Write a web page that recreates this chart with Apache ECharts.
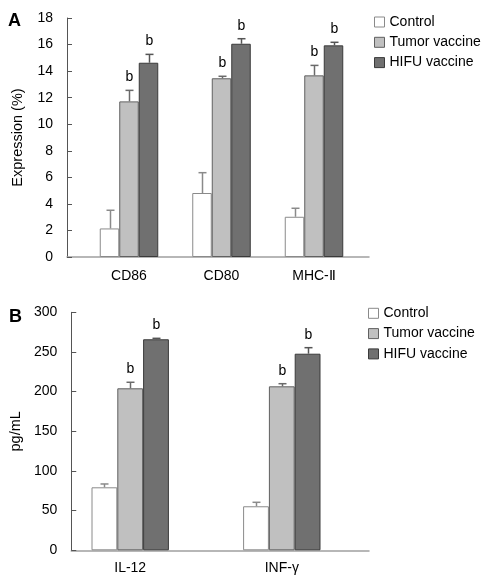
<!DOCTYPE html>
<html>
<head>
<meta charset="utf-8">
<script src="https://cdn.jsdelivr.net/npm/echarts@6/dist/echarts.min.js"></script>
<style>html,body{margin:0;padding:0;background:#fff}#c{width:496px;height:585px}</style>
</head>
<body>
<div id="c"></div>
<script>
// ---- Data ----
const seriesNames = ['Control', 'Tumor vaccine', 'HIFU vaccine'];

const aCategories = ['CD86', 'CD80', 'MHC-Ⅱ'];
const aControl = [2.15, 4.82, 3.03];
const aControlErr = [1.37, 1.53, 0.64];
const aTumor = [11.72, 13.46, 13.68];
const aTumorErr = [0.83, 0.15, 0.75];
const aHifu = [14.63, 16.06, 15.94];
const aHifuErr = [0.63, 0.38, 0.23];
const aSig = [[0, 0, 0], [1, 1, 1], [1, 1, 1]];
const aYTicks = [0, 2, 4, 6, 8, 10, 12, 14, 16, 18];

const bCategories = ['IL-12', 'INF-γ'];
const bControl = [79.4, 55.5];
const bControlErr = [4.2, 5.0];
const bTumor = [204.2, 206.7];
const bTumorErr = [7.6, 3.3];
const bHifu = [266, 247.8];
const bHifuErr = [1.2, 7.6];
const bSig = [[0, 0], [1, 1], [1, 1]];
const bYTicks = [0, 50, 100, 150, 200, 250, 300];

// ---- Styles ----
const FONT = 'Liberation Sans';
const fills = ['#ffffff', '#c0c0c0', '#707070'];
const borders = ['#8a8a8a', '#606060', '#3a3a3a'];
const errColors = ['#8a8a8a', '#6a6a6a', '#555555'];

function errRenderer(barW) {
  return function (params, api) {
    const cat = api.value(0), val = api.value(1), err = api.value(2), idx = api.value(3), sig = api.value(4);
    const base = api.coord([cat, val]);
    const top = api.coord([cat, val + err]);
    const x = Math.round(base[0] + (idx - 1) * barW) + 0.5;
    const cap = 4;
    const children = [
      { type: 'line', shape: { x1: x, y1: base[1], x2: x, y2: top[1] }, style: { stroke: errColors[idx], lineWidth: 1.5 } },
      { type: 'line', shape: { x1: x - cap, y1: top[1], x2: x + cap, y2: top[1] }, style: { stroke: errColors[idx], lineWidth: 1.5 } }
    ];
    if (sig) {
      children.push({ type: 'text', style: { text: 'b', x: x, y: top[1] - 13, align: 'center', verticalAlign: 'middle', font: '14px "' + FONT + '"', fill: '#000' } });
    }
    return { type: 'group', children: children };
  };
}

function errData(vals, errs, sig, idx) {
  return vals.map((v, i) => [i, v, errs[i], idx, sig[idx][i]]);
}

const tickLabel = { color: '#000', fontFamily: FONT, fontSize: 14 };

function frameAxes(gridIndex, max, interval, name, nameGap) {
  return {
    x: { type: 'value', gridIndex, min: 0, max: 1, axisLine: { show: true, onZero: false, lineStyle: { color: '#a0a0a0', width: 1.5 } }, axisTick: { show: false }, axisLabel: { show: false }, splitLine: { show: false } },
    y: { type: 'value', gridIndex, min: 0, max, interval, name, nameLocation: 'middle', nameGap, nameRotate: 90,
      nameTextStyle: { color: '#000', fontFamily: FONT, fontSize: 14.5 },
      axisLine: { show: true, lineStyle: { color: '#555', width: 1 } },
      axisTick: { show: true, inside: true, length: 5, lineStyle: { color: '#555' } },
      axisLabel: Object.assign({ margin: 14 }, tickLabel), splitLine: { show: false } }
  };
}

const fA = frameAxes(0, 18, 2, 'Expression (%)', 42);
const fB = frameAxes(2, 300, 50, 'pg/mL', 42);

function barAxes(gridIndex, cats, max, margin) {
  return {
    x: { type: 'category', gridIndex, data: cats, axisLine: { show: false }, axisTick: { show: false }, axisLabel: Object.assign({ margin, interval: 0 }, tickLabel) },
    y: { type: 'value', gridIndex, min: 0, max, show: false, splitLine: { show: false } }
  };
}
const bxA = barAxes(1, aCategories, 18, 12);
const bxB = barAxes(3, bCategories, 300, 11);

const barWA = 19.5, barWB = 25.8;
function bars(vals, idx, axisIndex, bw) {
  return { type: 'bar', name: seriesNames[idx], xAxisIndex: axisIndex, yAxisIndex: axisIndex, data: vals, barWidth: bw, barGap: '0%',
    itemStyle: { color: fills[idx], borderColor: borders[idx], borderWidth: 1 }, animation: false };
}
function errs(vals, e, sig, idx, axisIndex, bw) {
  return { type: 'custom', xAxisIndex: axisIndex, yAxisIndex: axisIndex, renderItem: errRenderer(bw), data: errData(vals, e, sig, idx), clip: false, z: 5, silent: true, animation: false };
}

const legendBase = { orient: 'vertical', icon: 'rect', itemWidth: 10, itemHeight: 10, itemGap: 6.3, itemTextGap: 10, padding: 0,
  textStyle: { color: '#000', fontFamily: FONT, fontSize: 14, lineHeight: 12 }, selectedMode: false,
  itemStyle: { borderWidth: 1 } };

const option = {
  animation: false,
  backgroundColor: '#fff',
  title: [
    { text: 'A', left: 8, top: 12, padding: 0, textStyle: { fontFamily: FONT, fontWeight: 'bold', fontSize: 18, color: '#000' } },
    { text: 'B', left: 9, top: 308, padding: 0, textStyle: { fontFamily: FONT, fontWeight: 'bold', fontSize: 18, color: '#000' } }
  ],
  legend: [
    Object.assign({}, legendBase, { left: 374, top: 15, data: seriesNames }),
    Object.assign({}, legendBase, { left: 368, top: 306.3, data: seriesNames })
  ],
  grid: [
    { left: 67, top: 18, width: 302, height: 239 },
    { left: 82.75, top: 18, width: 277.5, height: 239 },
    { left: 67, top: 312.3, width: 302, height: 238 },
    { left: 54.4, top: 312.3, width: 303.2, height: 238 }
  ],
  xAxis: [fA.x, bxA.x, fB.x, bxB.x],
  yAxis: [fA.y, bxA.y, fB.y, bxB.y],
  series: [
    bars(aControl, 0, 1, barWA), bars(aTumor, 1, 1, barWA), bars(aHifu, 2, 1, barWA),
    errs(aControl, aControlErr, aSig, 0, 1, barWA), errs(aTumor, aTumorErr, aSig, 1, 1, barWA), errs(aHifu, aHifuErr, aSig, 2, 1, barWA),
    bars(bControl, 0, 3, barWB), bars(bTumor, 1, 3, barWB), bars(bHifu, 2, 3, barWB),
    errs(bControl, bControlErr, bSig, 0, 3, barWB), errs(bTumor, bTumorErr, bSig, 1, 3, barWB), errs(bHifu, bHifuErr, bSig, 2, 3, barWB)
  ]
};

const chart = echarts.init(document.getElementById('c'), null, { renderer: 'canvas' });
chart.setOption(option);
</script>
</body>
</html>
